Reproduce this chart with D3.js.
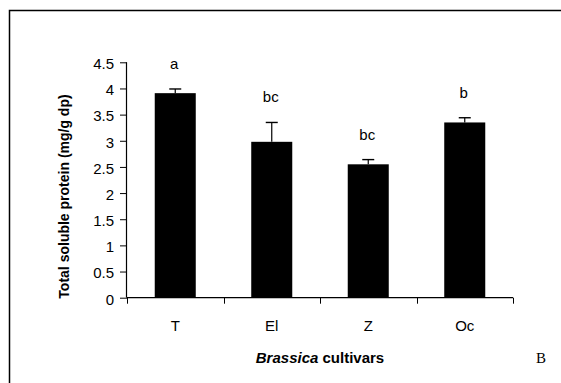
<!DOCTYPE html>
<html><head><meta charset="utf-8">
<script src="https://cdn.jsdelivr.net/npm/d3@7"></script>
<style>body{margin:0;background:#fff}svg{display:block}</style>
</head><body><div id="chart"></div>
<script>
const categories = ["T", "El", "Z", "Oc"];
const values = [3.91, 2.98, 2.55, 3.35];
const errors = [0.08, 0.37, 0.09, 0.09];
const letters = ["a", "bc", "bc", "b"];
const yTicks = [0, 0.5, 1, 1.5, 2, 2.5, 3, 3.5, 4, 4.5];
const yTickLabels = ["0", "0.5", "1", "1.5", "2", "2.5", "3", "3.5", "4", "4.5"];

const W = 561, H = 383;
const svg = d3.select("#chart").append("svg").attr("width", W).attr("height", H);
svg.append("rect").attr("width", W).attr("height", H).attr("fill", "#fff");
// frame (only top and left visible)
svg.append("path").attr("d", `M9.5,${H} V10.5 H${W}`).attr("fill", "none").attr("stroke", "#000").attr("stroke-width", 1.5);

const x0 = 127, x1 = 513, yTop = 62.3, yBot = 297.7;
const x = d3.scaleBand().domain(categories).range([x0, x1]).paddingInner(0.575).paddingOuter(0.2875);
const y = d3.scaleLinear().domain([0, 4.5]).range([yBot, yTop]);
const font = "Arial, 'Liberation Sans', sans-serif";
const fs = 15;

// bars
svg.selectAll("rect.bar").data(values).enter().append("rect")
  .attr("x", (d, i) => x(categories[i]))
  .attr("y", d => y(d))
  .attr("width", x.bandwidth())
  .attr("height", d => y(0) - y(d))
  .attr("fill", "#000");

// error bars
const cap = 6;
values.forEach((v, i) => {
  const cx = x(categories[i]) + x.bandwidth() / 2;
  svg.append("line").attr("x1", cx).attr("x2", cx).attr("y1", y(v)).attr("y2", y(v + errors[i])).attr("stroke", "#000").attr("stroke-width", 1.2);
  svg.append("line").attr("x1", cx - cap).attr("x2", cx + cap).attr("y1", y(v + errors[i])).attr("y2", y(v + errors[i])).attr("stroke", "#000").attr("stroke-width", 1.4);
  svg.append("text").attr("x", cx - 1).attr("y", y(v + errors[i]) - 20)
    .attr("text-anchor", "middle").attr("font-family", font).attr("font-size", fs).text(letters[i]);
});

// y axis
const yAxis = d3.axisLeft(y).tickValues(yTicks).tickFormat((d, i) => yTickLabels[i]).tickSize(7).tickPadding(6);
const gy = svg.append("g").attr("transform", `translate(${x0},0)`).call(yAxis);
gy.select(".domain").attr("d", `M-0.5,${yTop}V${yBot}`).attr("stroke-width", 1.2);
gy.selectAll("text").attr("font-family", font).attr("font-size", fs).attr("fill", "#000").attr("dy", "0.42em");

// x axis
const xAxis = d3.axisBottom(x).tickSize(0).tickPadding(23);
const gx = svg.append("g").attr("transform", `translate(0,${yBot})`).call(xAxis);
gx.select(".domain").attr("d", `M${x0},0H${x1}`).attr("stroke-width", 1.2);
gx.selectAll("text").attr("font-family", font).attr("font-size", fs).attr("fill", "#000");
// boundary ticks between categories
d3.range(categories.length + 1).forEach(k => {
  const tx = Math.round(x0 + k * (x1 - x0) / categories.length) + 0.5;
  gx.append("line").attr("x1", tx).attr("x2", tx).attr("y1", 0).attr("y2", 6).attr("stroke", "#000");
});

// y title
svg.append("text").attr("transform", `translate(69,196.5) rotate(-90)`)
  .attr("text-anchor", "middle").attr("font-family", font).attr("font-size", 14).attr("font-weight", "bold")
  .text("Total soluble protein (mg/g dp)");

// x title
const xt = svg.append("text").attr("x", 320).attr("y", 362.5).attr("text-anchor", "middle")
  .attr("font-family", font).attr("font-size", 15).attr("font-weight", "bold");
xt.append("tspan").attr("font-style", "italic").text("Brassica");
xt.append("tspan").text(" cultivars");

svg.append("text").attr("x", 541).attr("y", 363).attr("text-anchor", "middle")
  .attr("font-family", "'Liberation Serif', 'Times New Roman', serif").attr("font-size", 15).text("B");
</script></body></html>
